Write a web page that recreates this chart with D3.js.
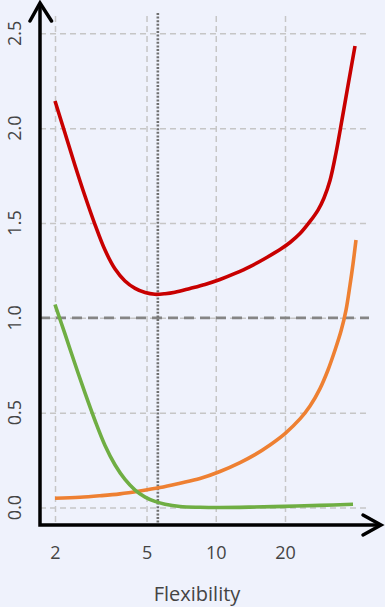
<!DOCTYPE html>
<html>
<head>
<meta charset="utf-8">
<script src="https://cdn.jsdelivr.net/npm/d3@7/dist/d3.min.js"></script>
<style>
  html, body { margin: 0; padding: 0; background: #eff2fc; }
  svg { display: block; }
  text { font-family: "Open Sans", "Noto Sans", sans-serif; fill: #444; }
</style>
</head>
<body>
<script>
// ---- data ----
const xTicks = [2, 5, 10, 20];
const xTickLabels = ["2", "5", "10", "20"];
const yTicks = [0, 0.5, 1.0, 1.5, 2.0, 2.5];
const yTickLabels = ["0.0", "0.5", "1.0", "1.5", "2.0", "2.5"];
const xLabel = "Flexibility";

// test error (red)
const redX = [2.00, 2.21, 2.44, 2.70, 2.99, 3.30, 3.65, 4.03, 4.46, 4.93, 5.44, 6.02, 6.65, 7.73, 8.98,
              10.43, 12.13, 14.09, 16.37, 19.03, 21.02, 23.24, 25.69, 27.83, 29.55, 31.38, 33.32, 35.39, 37.58, 40.31];
const redY = [2.143, 1.974, 1.806, 1.642, 1.489, 1.357, 1.257, 1.194, 1.155, 1.133, 1.124, 1.127, 1.135, 1.155, 1.176,
              1.202, 1.234, 1.270, 1.313, 1.360, 1.397, 1.444, 1.508, 1.568, 1.632, 1.724, 1.869, 2.045, 2.225, 2.433];

// variance (orange)
const orangeX = [2.00, 2.57, 3.14, 3.83, 4.68, 5.72, 6.99, 8.54, 10.43, 12.75, 14.81, 17.21, 20.00,
                 23.24, 25.69, 28.39, 30.76, 33.00, 35.04, 36.84, 38.34, 39.51, 40.71];
const orangeY = [0.049, 0.054, 0.062, 0.072, 0.087, 0.105, 0.128, 0.153, 0.190, 0.237, 0.279, 0.330, 0.390,
                 0.467, 0.535, 0.627, 0.725, 0.830, 0.930, 1.041, 1.173, 1.284, 1.410];

// squared bias (green)
const greenX = [2.00, 2.21, 2.44, 2.70, 2.99, 3.30, 3.65, 4.03, 4.46, 4.93, 5.44, 6.02, 6.99, 8.54,
                10.43, 14.09, 20.00, 28.39, 39.51];
const greenY = [1.070, 0.915, 0.759, 0.604, 0.456, 0.327, 0.224, 0.148, 0.092, 0.055, 0.032, 0.017, 0.005, 0.001,
                0.000, 0.002, 0.006, 0.011, 0.017];

const irreducible = 1.0;
const optimumX = 5.6;

// ---- drawing ----
const W = 385, H = 607;
const svg = d3.select("body").append("svg").attr("width", W).attr("height", H);

const x = d3.scaleLog().domain([2, 20]).range([55, 285]);
const y = d3.scaleLinear().domain([0, 2.5]).range([507.5, 33.3]);

const axisX0 = 40, axisY0 = 525, gridRight = 369, gridTop = 13;

// horizontal gridlines
svg.append("g")
  .attr("transform", `translate(${axisX0},0)`)
  .call(d3.axisLeft(y).tickValues(yTicks).tickSize(-(gridRight - axisX0)).tickFormat(""))
  .call(g => g.select(".domain").remove())
  .call(g => g.selectAll("line").attr("stroke", "#c6c6c6").attr("stroke-width", 1.5).attr("stroke-dasharray", "6,4"));

// vertical gridlines
svg.append("g")
  .attr("transform", `translate(0,${axisY0 - 3})`)
  .call(d3.axisBottom(x).tickValues(xTicks).tickSize(-(axisY0 - 3 - gridTop)).tickFormat(""))
  .call(g => g.select(".domain").remove())
  .call(g => g.selectAll("line").attr("stroke", "#c6c6c6").attr("stroke-width", 1.5).attr("stroke-dasharray", "6,4"));

// irreducible error line
svg.append("line")
  .attr("x1", axisX0).attr("x2", gridRight)
  .attr("y1", y(irreducible)).attr("y2", y(irreducible))
  .attr("stroke", "#858585").attr("stroke-width", 2.8).attr("stroke-dasharray", "10,6");

// optimum dotted line
svg.append("line")
  .attr("x1", x(optimumX)).attr("x2", x(optimumX))
  .attr("y1", gridTop).attr("y2", axisY0 - 2)
  .attr("stroke", "#707070").attr("stroke-width", 2.6).attr("stroke-dasharray", "2,1.6");

const line = d3.line().x(d => x(d[0])).y(d => y(d[1])).curve(d3.curveCatmullRom.alpha(0.5));
function drawSeries(xs, ys, color) {
  svg.append("path")
    .datum(xs.map((v, i) => [v, ys[i]]))
    .attr("d", line)
    .attr("fill", "none")
    .attr("stroke", color)
    .attr("stroke-width", 3.6);
}
drawSeries(orangeX, orangeY, "#ee8032");
drawSeries(greenX, greenY, "#6fae43");
drawSeries(redX, redY, "#c80000");

// axes
svg.append("path")
  .attr("d", `M${axisX0},3 L${axisX0},${axisY0} L381,${axisY0}`)
  .attr("fill", "none").attr("stroke", "#000").attr("stroke-width", 3.5)
  .attr("stroke-linejoin", "miter");
svg.append("path")
  .attr("d", `M30,21 L${axisX0},3 L51.5,21`)
  .attr("fill", "none").attr("stroke", "#000").attr("stroke-width", 3.5)
  .attr("stroke-linejoin", "miter").attr("stroke-linecap", "round");
svg.append("path")
  .attr("d", `M363,515 L381,${axisY0} L363,535`)
  .attr("fill", "none").attr("stroke", "#000").attr("stroke-width", 3.5)
  .attr("stroke-linejoin", "miter").attr("stroke-linecap", "round");

// x tick labels
svg.append("g")
  .attr("transform", `translate(0,${axisY0})`)
  .call(d3.axisBottom(x).tickValues(xTicks).tickSize(0).tickPadding(21)
        .tickFormat((d, i) => xTickLabels[i]))
  .call(g => g.select(".domain").remove())
  .call(g => g.selectAll("text").attr("font-size", 18).attr("fill", "#444")
        .style("font-family", '"Open Sans", "Noto Sans", sans-serif'));

// y tick labels (rotated)
svg.append("g").selectAll("text")
  .data(yTicks)
  .join("text")
  .attr("transform", d => `translate(20.5,${y(d)}) rotate(-90)`)
  .attr("text-anchor", "middle")
  .attr("font-size", 18)
  .text((d, i) => yTickLabels[i]);

// x label
svg.append("text")
  .attr("x", 197).attr("y", 601)
  .attr("text-anchor", "middle")
  .attr("font-size", 20)
  .text(xLabel);
</script>
</body>
</html>
